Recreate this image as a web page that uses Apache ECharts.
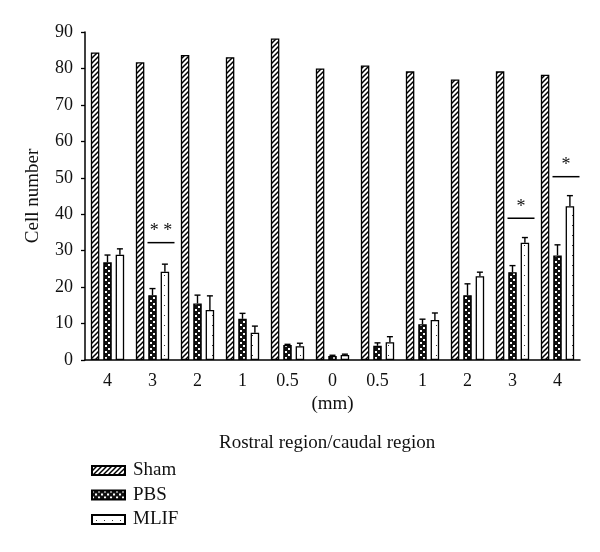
<!DOCTYPE html>
<html><head><meta charset="utf-8">
<script src="https://cdn.jsdelivr.net/npm/echarts@6/dist/echarts.min.js"></script>
<style>html,body{margin:0;padding:0;background:#fff}#c{width:600px;height:552px}</style>
</head><body><div id="c"></div>
<script>
const categories = ['4','3','2','1','0.5','0','0.5','1','2','3','4'];
const shamValues = [84.4, 81.7, 83.7, 83.1, 88.2, 80.0, 80.8, 79.2, 77.0, 79.2, 78.3];
const pbsValues  = [26.8, 17.8, 15.5, 11.3, 4.1, 1.1, 3.9, 9.8, 17.8, 24.1, 28.7];
const pbsErrTop  = [28.8, 19.6, 17.8, 12.8, 4.3, 1.3, 4.7, 11.2, 20.9, 25.9, 31.6];
const mlifValues = [28.9, 24.2, 13.7, 7.5, 3.8, 1.4, 4.9, 11.0, 23.0, 32.2, 42.2];
const mlifErrTop = [30.5, 26.3, 17.6, 9.3, 4.6, 1.6, 6.4, 12.9, 24.1, 33.6, 45.1];
const sigCategory = [1, 9, 10];
const sigLevel = [32.2, 38.9, 50.3];
const sigText = ['* *', '*', '*'];

function makePattern(w, h, draw) {
  const cv = document.createElement('canvas');
  cv.width = w; cv.height = h;
  const ctx = cv.getContext('2d');
  draw(ctx);
  return {image: cv, repeat: 'repeat'};
}
const shamPat = makePattern(5, 5, ctx => {
  ctx.fillStyle = '#fff'; ctx.fillRect(0,0,5,5);
  ctx.strokeStyle = '#000'; ctx.lineWidth = 1.5;
  ctx.beginPath();
  ctx.moveTo(-1,6); ctx.lineTo(6,-1);
  ctx.moveTo(-1,1); ctx.lineTo(1,-1);
  ctx.moveTo(4,6); ctx.lineTo(6,4);
  ctx.stroke();
});
const pbsPat = makePattern(6, 6, ctx => {
  ctx.fillStyle = '#111'; ctx.fillRect(0,0,6,6);
  ctx.fillStyle = '#fff';
  ctx.fillRect(0,0,2,2); ctx.fillRect(3,3,2,2);
});
const mlifPat = makePattern(8, 10, ctx => {
  ctx.fillStyle = '#fff'; ctx.fillRect(0,0,8,10);
  ctx.fillStyle = '#333'; ctx.fillRect(4,5,1,1);
});

const FONT = '"Liberation Serif", "DejaVu Serif", serif';
const TXT = '#111';
const BIG = 19;
const pitch = 12.4;

function errSeries(vals, tops, offset) {
  return {
    type: 'custom', silent: true, z: 5,
    data: vals.map((v, i) => [i, v, tops[i]]),
    renderItem: function (params, api) {
      const b = api.coord([api.value(0), api.value(1)]);
      const t = api.coord([api.value(0), api.value(2)]);
      const x = b[0] + offset;
      return {type: 'group', children: [
        {type: 'line', shape: {x1: x, y1: b[1], x2: x, y2: t[1]}, style: {stroke: '#000', lineWidth: 1.4}},
        {type: 'line', shape: {x1: x - 3, y1: t[1], x2: x + 3, y2: t[1]}, style: {stroke: '#000', lineWidth: 1.4}}
      ]};
    }
  };
}

const chart = echarts.init(document.getElementById('c'), null, {renderer: 'canvas'});
chart.setOption({
  animation: false,
  backgroundColor: '#fff',
  textStyle: {fontFamily: FONT},
  title: {
    text: 'Rostral region/caudal region', left: 214, top: 429,
    textStyle: {fontFamily: FONT, fontSize: BIG, fontWeight: 'normal', color: TXT}
  },
  legend: {
    orient: 'vertical', left: 86, top: 456, itemGap: 5.5, itemWidth: 33, itemHeight: 9,
    icon: 'rect',
    textStyle: {fontFamily: FONT, fontSize: BIG, color: TXT, padding: [0, 0, 0, 3]},
    data: ['Sham', 'PBS', 'MLIF']
  },
  grid: {left: 85, right: 20, top: 32, bottom: 192},
  xAxis: {
    type: 'category', data: categories,
    name: '(mm)', nameLocation: 'middle', nameGap: 33,
    nameTextStyle: {fontFamily: FONT, fontSize: BIG, color: TXT},
    axisLine: {lineStyle: {color: '#000', width: 1.5}},
    axisTick: {alignWithLabel: true, length: 5, lineStyle: {color: '#000', width: 1.3}},
    axisLabel: {fontFamily: FONT, fontSize: 18, color: TXT, margin: 12}
  },
  yAxis: {
    type: 'value', min: 0, max: 90, interval: 10,
    name: 'Cell number', nameLocation: 'middle', nameGap: 42, nameRotate: 90,
    nameTextStyle: {fontFamily: FONT, fontSize: BIG, color: TXT},
    axisLine: {show: true, lineStyle: {color: '#000', width: 1.5}},
    axisTick: {show: true, length: 4, lineStyle: {color: '#000', width: 1.3}},
    splitLine: {show: false},
    axisLabel: {fontFamily: FONT, fontSize: 18, color: TXT, margin: 12}
  },
  series: [
    {name: 'Sham', type: 'bar', data: shamValues, barWidth: 8.5, barGap: '46%',
     itemStyle: {color: shamPat, borderColor: '#000', borderWidth: 1.3}},
    {name: 'PBS', type: 'bar', data: pbsValues, barWidth: 8.5, barGap: '46%',
     itemStyle: {color: pbsPat, borderColor: '#000', borderWidth: 1.3}},
    {name: 'MLIF', type: 'bar', data: mlifValues, barWidth: 8.5, barGap: '46%',
     itemStyle: {color: mlifPat, borderColor: '#000', borderWidth: 1.3}},
    errSeries(pbsValues, pbsErrTop, 0),
    errSeries(mlifValues, mlifErrTop, pitch),
    {
      type: 'custom', silent: true, z: 6,
      data: sigCategory.map((c, i) => [c, sigLevel[i], sigText[i]]),
      renderItem: function (params, api) {
        const p = api.coord([api.value(0), api.value(1)]);
        const txt = sigText[params.dataIndex];
        return {type: 'group', children: [
          {type: 'line', shape: {x1: p[0] - 5, y1: p[1], x2: p[0] + 22, y2: p[1]}, style: {stroke: '#000', lineWidth: 1.5}},
          {type: 'text', style: {text: txt, x: p[0] + 8.5, y: p[1] - 2, align: 'center', verticalAlign: 'bottom',
            font: '18px ' + FONT, fill: TXT}}
        ]};
      }
    }
  ]
});
</script>
</body></html>
